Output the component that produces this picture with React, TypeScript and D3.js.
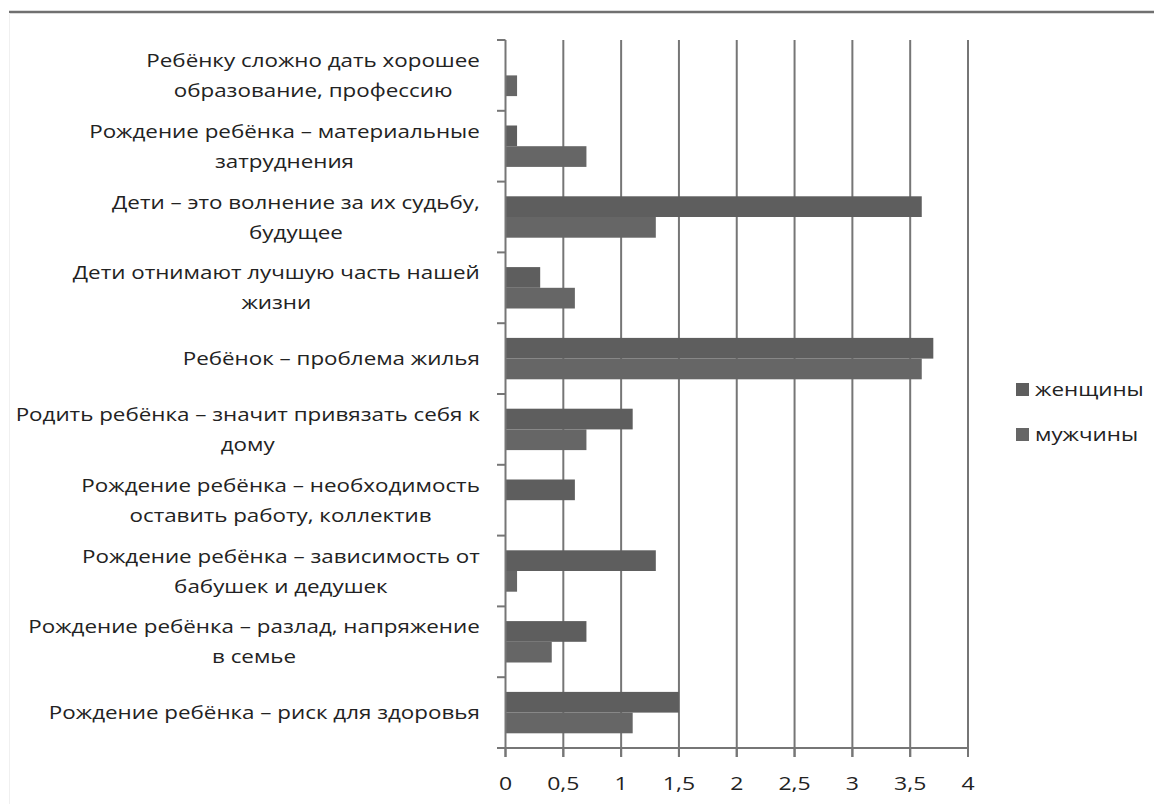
import React from "react";
import * as d3 from "d3";

const categories: string[] = [
  "Ребёнку сложно дать хорошее\nобразование, профессию",
  "Рождение ребёнка – материальные\nзатруднения",
  "Дети – это волнение за их судьбу,\nбудущее",
  "Дети отнимают лучшую часть нашей\nжизни",
  "Ребёнок – проблема жилья",
  "Родить ребёнка – значит привязать себя к\nдому",
  "Рождение ребёнка – необходимость\nоставить работу, коллектив",
  "Рождение ребёнка – зависимость от\nбабушек и дедушек",
  "Рождение ребёнка – разлад, напряжение\nв семье",
  "Рождение ребёнка – риск для здоровья",
];
const women: number[] = [0, 0.1, 3.6, 0.3, 3.7, 1.1, 0.6, 1.3, 0.7, 1.5];
const men: number[] = [0.1, 0.7, 1.3, 0.6, 3.6, 0.7, 0, 0.1, 0.4, 1.1];
const seriesNames: string[] = ["женщины", "мужчины"];
const seriesColors: string[] = ["#5e5e5e", "#666666"];
const xTicks: number[] = [0, 0.5, 1, 1.5, 2, 2.5, 3, 3.5, 4];

const W = 1154;
const H = 804;
const FONT = "'Open Sans', sans-serif";
const SX = 1.21;
const LABEL_FS = 18.5;

let ctx: CanvasRenderingContext2D | null = null;
function measure(t: string, fs: number): number {
  if (!ctx) ctx = document.createElement("canvas").getContext("2d");
  if (!ctx) return t.length * fs * 0.55;
  ctx.font = `${fs}px 'Open Sans'`;
  return ctx.measureText(t).width;
}

function SText(props: {
  x: number;
  y: number;
  anchor: "start" | "middle" | "end";
  fs: number;
  children: string;
}) {
  return (
    <text
      transform={`translate(${props.x},${props.y}) scale(${SX},1)`}
      textAnchor={props.anchor}
      fontSize={props.fs}
      fill="#222"
    >
      {props.children}
    </text>
  );
}

export default function App() {
  const x = d3.scaleLinear().domain([0, 4]).range([505.5, 968]);
  const y = d3.scaleBand<string>().domain(categories).range([40, 748]).padding(0);
  const inner = d3
    .scaleBand<string>()
    .domain(seriesNames)
    .range([0, y.bandwidth()])
    .paddingInner(0)
    .paddingOuter(0.71);
  const series = [women, men];
  const fmt = (v: number) => String(v).replace(".", ",");
  const boundaries = categories.map((c) => y(c)!).concat([y.range()[1]]);

  return (
    <svg
      width={W}
      height={H}
      style={{ position: "absolute", left: 0, top: 0, background: "#fff" }}
      fontFamily={FONT}
    >
      <rect x={0} y={0} width={W} height={H} fill="#fff" />
      <line x1={9} x2={W} y1={12} y2={12} stroke="#707070" strokeWidth={2.5} />
      <line x1={9.5} x2={9.5} y1={13} y2={H} stroke="#f0f0f0" strokeWidth={1} />

      {xTicks.slice(1).map((t) => (
        <line
          key={"g" + t}
          x1={x(t)}
          x2={x(t)}
          y1={40}
          y2={757}
          stroke="#767676"
          strokeWidth={2}
        />
      ))}

      {series.map((vals, si) =>
        vals.map((v, i) =>
          v > 0 ? (
            <rect
              key={`b${si}-${i}`}
              x={x(0)}
              y={y(categories[i])! + inner(seriesNames[si])!}
              width={x(v) - x(0)}
              height={inner.bandwidth()}
              fill={seriesColors[si]}
            />
          ) : null
        )
      )}

      <line x1={x(0)} x2={x(0)} y1={40} y2={757} stroke="#767676" strokeWidth={2} />
      {boundaries.map((b, i) => (
        <line key={"yt" + i} x1={497} x2={x(0)} y1={b} y2={b} stroke="#767676" strokeWidth={2} />
      ))}
      <line x1={497} x2={x(4) + 1} y1={748} y2={748} stroke="#767676" strokeWidth={2} />
      {xTicks.map((t) => (
        <g key={"xt" + t}>
          <line x1={x(t)} x2={x(t)} y1={748} y2={757} stroke="#767676" strokeWidth={2} />
          <SText x={x(t)} y={790} anchor="middle" fs={19}>
            {fmt(t)}
          </SText>
        </g>
      ))}

      {categories.map((c) => {
        const lines = c.split("\n");
        const cy = y(c)! + y.bandwidth() / 2;
        const lh = 30;
        const first = cy - ((lines.length - 1) * lh) / 2 + 6.5;
        const widest = Math.max(...lines.map((l) => measure(l, LABEL_FS))) * SX;
        const cx = 480 - widest / 2;
        return (
          <g key={"lab" + c}>
            {lines.map((ln, k) => (
              <SText key={k} x={cx} y={first + k * lh} anchor="middle" fs={LABEL_FS}>
                {ln}
              </SText>
            ))}
          </g>
        );
      })}

      {seriesNames.map((s, i) => (
        <g key={"lg" + s}>
          <rect x={1016} y={383 + i * 45} width={13} height={13} fill={seriesColors[i]} />
          <SText x={1035} y={396 + i * 45} anchor="start" fs={18.5}>
            {s}
          </SText>
        </g>
      ))}
    </svg>
  );
}
